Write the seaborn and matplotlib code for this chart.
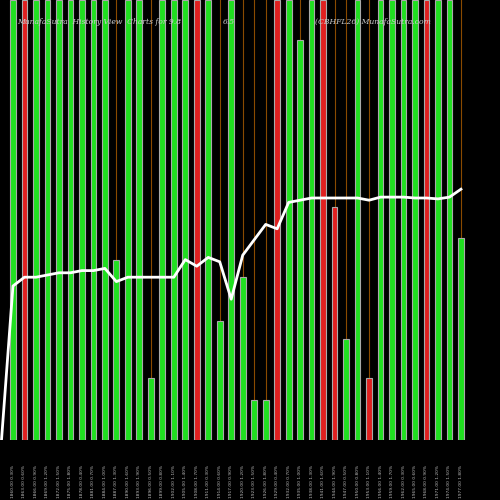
import numpy as np
import pandas as pd
import matplotlib
matplotlib.use("Agg")
import matplotlib.pyplot as plt
import seaborn as sns

# bar heights as % of plot height, colours of each bar
heights = [100, 100, 100, 100, 100, 100, 100, 100, 100, 41,
           100, 100, 14, 100, 100, 100, 100, 100, 27, 100,
           37, 9, 9, 100, 100, 91, 100, 100, 53, 23,
           100, 14, 100, 100, 100, 100, 100, 100, 100, 46]
colors = ["g", "r", "g", "g", "g", "g", "g", "g", "g", "g",
          "g", "g", "g", "g", "g", "g", "r", "g", "g", "g",
          "g", "g", "g", "r", "g", "g", "g", "r", "r", "g",
          "g", "r", "g", "g", "g", "g", "r", "g", "g", "g"]
line_vals = [0, 35, 37, 37, 37.5, 38, 38, 38.5, 38.5, 39, 36,
             37, 37, 37, 37, 37, 41, 39.5, 41.5, 40.5, 32,
             42, 45.5, 49, 48, 54, 54.5, 55, 55, 55, 55,
             55, 54.5, 55.2, 55.2, 55.2, 55, 55, 54.8, 55.2, 57]
labels = ["%d.00 %.2f%%" % (1860 + 3 * i, 0.3 + (i * 37 % 17) / 10) for i in range(len(heights))]

df = pd.DataFrame({"pos": range(len(heights)), "h": heights,
                   "c": [{"g": "#00ff00", "r": "#ff0000"}[c] for c in colors]})

fig = plt.figure(figsize=(5, 5), dpi=100, facecolor="black")
ax = fig.add_axes([0, 0.12, 1, 0.88])
ax.set_facecolor("black")

# thin orange lines behind short bars
for p, h in zip(df["pos"], df["h"]):
    if h < 95:
        ax.axvline(p, color="#8a4a00", lw=0.8, zorder=0)

sns.barplot(data=df, x="pos", y="h", hue="pos", palette=list(df["c"]),
            legend=False, width=0.5, edgecolor="#aaaaaa", linewidth=0.8,
            ax=ax, native_scale=True, zorder=2)
ax.plot(np.arange(-1, len(heights)), line_vals, color="white", lw=2, zorder=3)

ax.set_xlim(-1.13, 42.4)
ax.set_ylim(0, 100)
ax.set_xticks(df["pos"])
ax.set_xticklabels(labels, rotation=90, fontsize=3.2, color="#bbbbbb")
ax.tick_params(axis="x", length=0, pad=18)
ax.set_yticks([])
ax.set_xlabel("")
ax.set_ylabel("")
for s in ax.spines.values():
    s.set_visible(False)

tfont = dict(color="#cccccc", fontsize=5.5, style="italic", family="DejaVu Serif", va="center")
fig.text(0.035, 1 - 22 / 500, "MunafaSutra  History View  Charts for 9.8", **tfont)
fig.text(0.445, 1 - 22 / 500, "6.5", **tfont)
fig.text(0.63, 1 - 22 / 500, "(CBHFL26) MunafaSutra.com", **tfont)

fig.savefig("out.png", dpi=100, facecolor="black")
